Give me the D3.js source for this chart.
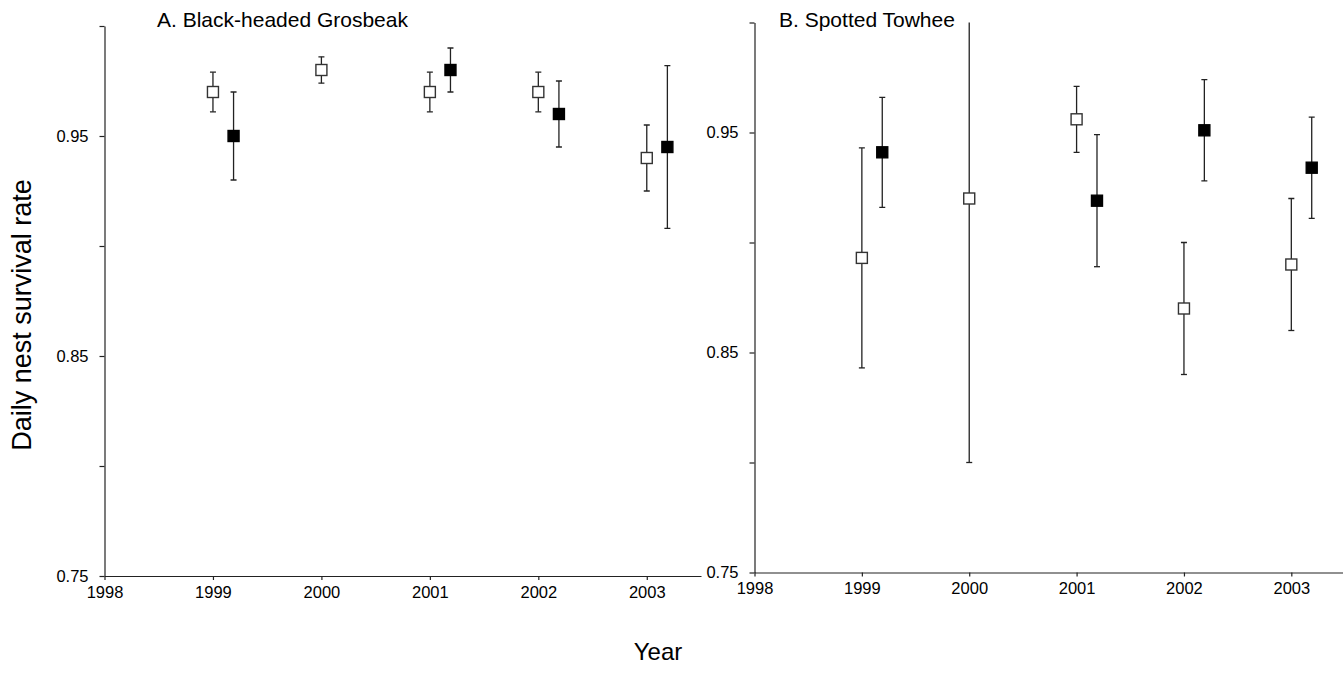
<!DOCTYPE html>
<html>
<head>
<meta charset="utf-8">
<script src="https://cdn.jsdelivr.net/npm/d3@7"></script>
<style>
  html, body { margin: 0; padding: 0; background: #fff; }
  svg { display: block; }
  text { font-family: Arial, "Liberation Sans", sans-serif; fill: #000; }
</style>
</head>
<body>
<svg id="chart" width="1343" height="688"></svg>
<script>
// ---- data ----
const years = [1999, 2000, 2001, 2002, 2003];
const xTicks = [1998, 1999, 2000, 2001, 2002, 2003];
const yTicks = [0.75, 0.80, 0.85, 0.90, 0.95, 1.00];
const yLabels = [0.75, 0.85, 0.95];

// Panel A: Black-headed Grosbeak
const grosbeakOpen    = [0.970, 0.980, 0.970, 0.970, 0.940];
const grosbeakOpenLo  = [0.961, 0.974, 0.961, 0.961, 0.925];
const grosbeakOpenHi  = [0.979, 0.986, 0.979, 0.979, 0.955];
const grosbeakFilled   = [0.950, null, 0.980, 0.960, 0.945];
const grosbeakFilledLo = [0.930, null, 0.970, 0.945, 0.908];
const grosbeakFilledHi = [0.970, null, 0.990, 0.975, 0.982];

// Panel B: Spotted Towhee
const towheeOpen    = [0.893, 0.920, 0.956, 0.870, 0.890];
const towheeOpenLo  = [0.843, 0.800, 0.941, 0.840, 0.860];
const towheeOpenHi  = [0.943, 1.040, 0.971, 0.900, 0.920];
const towheeFilled   = [0.941, null, 0.919, 0.951, 0.934];
const towheeFilledLo = [0.916, null, 0.889, 0.928, 0.911];
const towheeFilledHi = [0.966, null, 0.949, 0.974, 0.957];

const panelTitles = ["A. Black-headed Grosbeak", "B. Spotted Towhee"];

// ---- layout ----
const svg = d3.select("#chart");
const panels = [
  { title: panelTitles[0], x0: 104.5, x1: 701, yTop: 26, yBot: 576, titleX: 157,
    open: [grosbeakOpen, grosbeakOpenLo, grosbeakOpenHi],
    filled: [grosbeakFilled, grosbeakFilledLo, grosbeakFilledHi] },
  { title: panelTitles[1], x0: 754.5, x1: 1345, yTop: 22.5, yBot: 572.5, titleX: 779,
    open: [towheeOpen, towheeOpenLo, towheeOpenHi],
    filled: [towheeFilled, towheeFilledLo, towheeFilledHi] }
];

const filledOffset = 0.19;
const sq = 11, capW = 6;
const stroke = "#222";

panels.forEach((p, pi) => {
  const x = d3.scaleLinear().domain([1998, 2003.5]).range([p.x0, p.x1]);
  const y = d3.scaleLinear().domain([0.75, 1.0]).range([p.yBot, p.yTop]);
  const g = svg.append("g");

  // x axis
  const xAxis = d3.axisBottom(x).tickValues(xTicks).tickFormat(d3.format("d"))
    .tickSize(4).tickSizeOuter(0).tickPadding(6);
  const gx = g.append("g").attr("transform", `translate(0,${p.yBot})`).call(xAxis);
  gx.selectAll("text").style("font-size", "16.5px");
  gx.selectAll("line, path").attr("stroke", stroke).attr("stroke-width", 1.2);

  // y axis
  const yAxis = d3.axisLeft(y).tickValues(yTicks)
    .tickFormat(d => yLabels.some(v => Math.abs(v - d) < 1e-9) ? d3.format(".2f")(d) : "")
    .tickSize(5).tickSizeOuter(0).tickPadding(11);
  const gy = g.append("g").attr("transform", `translate(${p.x0},0)`).call(yAxis);
  gy.selectAll("text").style("font-size", "16.5px");
  gy.selectAll("line, path").attr("stroke", stroke).attr("stroke-width", 1.2);

  // title
  g.append("text").attr("x", p.titleX).attr("y", 27).style("font-size", "21px").text(p.title);

  // clip
  const clipId = "clip" + pi;
  svg.append("clipPath").attr("id", clipId).append("rect")
    .attr("x", p.x0).attr("y", p.yTop).attr("width", p.x1 - p.x0).attr("height", p.yBot - p.yTop);
  const marks = g.append("g").attr("clip-path", `url(#${clipId})`);

  const series = [
    { vals: p.open, off: 0, fill: "#fff" },
    { vals: p.filled, off: filledOffset, fill: "#000" }
  ];
  series.forEach(s => {
    const [v, lo, hi] = s.vals;
    const data = years.map((yr, i) => ({ yr, v: v[i], lo: lo[i], hi: hi[i] })).filter(d => d.v != null);
    const eg = marks.selectAll(null).data(data).enter().append("g");
    eg.append("line")
      .attr("x1", d => x(d.yr + s.off)).attr("x2", d => x(d.yr + s.off))
      .attr("y1", d => y(d.lo)).attr("y2", d => y(d.hi))
      .attr("stroke", stroke).attr("stroke-width", 1.3);
    eg.append("line")
      .attr("x1", d => x(d.yr + s.off) - capW / 2).attr("x2", d => x(d.yr + s.off) + capW / 2)
      .attr("y1", d => y(d.lo)).attr("y2", d => y(d.lo))
      .attr("stroke", stroke).attr("stroke-width", 1.3);
    eg.append("line")
      .attr("x1", d => x(d.yr + s.off) - capW / 2).attr("x2", d => x(d.yr + s.off) + capW / 2)
      .attr("y1", d => y(d.hi)).attr("y2", d => y(d.hi))
      .attr("stroke", stroke).attr("stroke-width", 1.3);
    eg.append("rect")
      .attr("x", d => x(d.yr + s.off) - sq / 2).attr("y", d => y(d.v) - sq / 2)
      .attr("width", sq).attr("height", sq)
      .attr("fill", s.fill).attr("stroke", s.fill === "#000" ? "#000" : "#333").attr("stroke-width", 1.4);
  });
});

// axis titles
svg.append("text").attr("transform", "translate(31,315) rotate(-90)")
  .attr("text-anchor", "middle").style("font-size", "27px").text("Daily nest survival rate");
svg.append("text").attr("x", 658).attr("y", 660)
  .attr("text-anchor", "middle").style("font-size", "24px").text("Year");
</script>
</body>
</html>
